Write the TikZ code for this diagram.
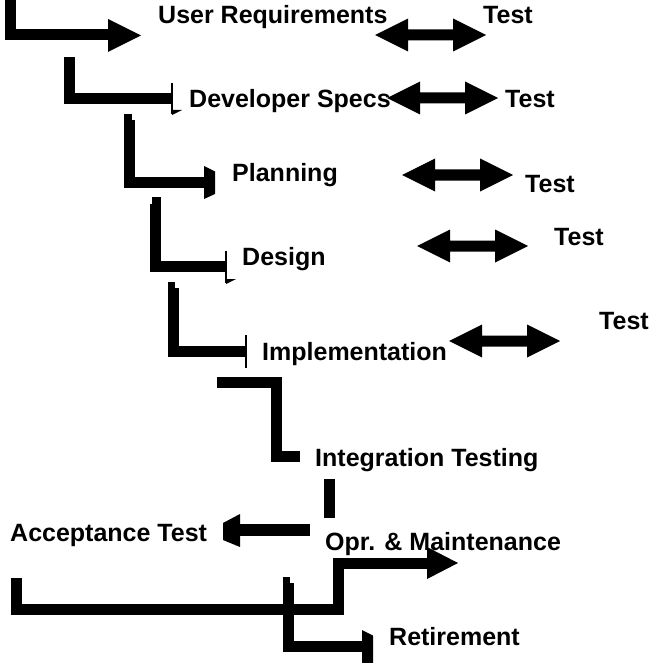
\documentclass[tikz,border=0pt]{standalone}
\usepackage{fontspec}
\setmainfont{Liberation Sans}
\usepackage{tikz}
\usetikzlibrary{positioning}

% doble flecha, punta izquierda en #1
\newcommand{\dblarrow}[1]{%
  \fill (#1) -- ++(33,-16.5) -- ++(0,11) -- ++(45,0) -- ++(0,-11) -- ++(33,16.5)
    -- ++(-33,16.5) -- ++(0,-11) -- ++(-45,0) -- ++(0,11) -- cycle;}

\begin{document}
\begin{tikzpicture}[x=1pt, y=-1pt,
    bar/.style={line width=11pt, line join=miter},
    tick/.style={line width=1.6pt},
    lbl/.style={anchor=base west, inner sep=0pt, font=\fontsize{25}{29}\selectfont\bfseries}]
    \useasboundingbox (0,0) rectangle (653,663);

    % Requisitos
    \draw[bar] (10.5,0) |- (108,35);
    \fill (108,19) -- (141,35.5) -- (108,52) -- cycle;
    \node[lbl] (ur) at (158,24) {User Requirements};
    \dblarrow{375,35}
    \node[lbl] (urt) at (483,24) {Test};

    % Specs
    \draw[bar] (69.5,57) |- (172,98.5);
    \draw[tick] (172,83) -- (172,114);
    \fill (172,115) -- (182,110) -- (172,110) -- cycle;
    \node[lbl] (ds) at (189,108) {Developer Specs};
    \dblarrow{387,98}
    \node[lbl] (dst) at (505,108) {Test};

    % Planning
    \draw[bar] (129.5,120) |- (204,182.5);
    \fill (124,114) rectangle (132,121);
    \fill (204,166) -- (215,171.5) -- (215,194) -- (204,199) -- cycle;
    \node[lbl] (pl) at (232,182) {Planning};
    \dblarrow{402,175}
    \node[lbl] (plt) at (525,192) {Test};

    % Design
    \draw[bar] (155.5,204) |- (226,266.5);
    \fill (152,197) rectangle (161,205);
    \draw[tick] (226,251) -- (226,283);
    \fill (226,284) -- (236,279) -- (226,279) -- cycle;
    \node[lbl] (de) at (242,265) {Design};
    \dblarrow{417,246}
    \node[lbl] (det) at (554,245) {Test};

    % Implementation
    \draw[bar] (173.5,288) |- (246,351.5);
    \fill (168,282) rectangle (175,289);
    \draw[tick] (246,335) -- (246,368);
    \node[lbl] (im) at (262,360) {Implementation};
    \dblarrow{449,341}
    \node[lbl] (imt) at (599,329) {Test};

    % Integration
    \draw[bar] (217,382.5) -| (276.5,456.5) -- (300,456.5);
    \node[lbl] (it) at (315,466) {Integration Testing};
    \fill (324,479) rectangle (335,518);

    % Acceptance
    \fill (240,524) rectangle (310,536);
    \fill (223,523) -- (240,514) -- (240,547) -- (223,540) -- cycle;
    \node[lbl] (at) at (10,541) {Acceptance Test};

    % Maintenance / Retirement
    \draw[bar] (16.5,578) |- (338.5,609.5) |- (427,563);
    \fill (427,547) -- (458,563) -- (427,579) -- cycle;
    \node[lbl] (om) at (325,550) {Opr. \& Maintenance};
    \draw[bar] (288,583) |- (362,646.5);
    \fill (283,577) rectangle (290,584);
    \fill (362,630) -- (373,635.5) -- (373,663) -- (362,663) -- cycle;
    \node[lbl] (re) at (389,645) {Retirement};
\end{tikzpicture}
\end{document}
